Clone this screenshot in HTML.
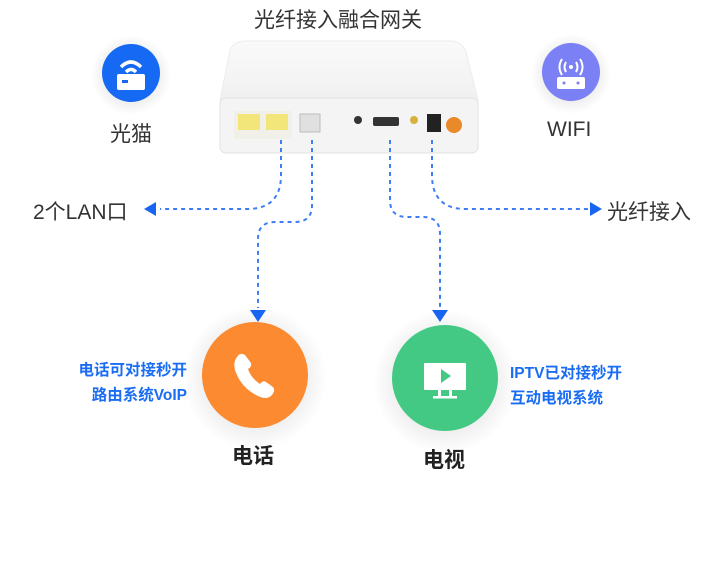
<!DOCTYPE html>
<html><head><meta charset="utf-8"><style>
html,body{margin:0;padding:0;background:#fff;}
body{width:720px;height:587px;position:relative;overflow:hidden;font-family:"Liberation Sans","Noto Sans CJK SC",sans-serif;}
.t{position:absolute;white-space:nowrap;}
</style></head><body>
<svg width="720" height="587" style="position:absolute;left:0;top:0">
<defs>
<radialGradient id="sh" cx="50%" cy="50%" r="50%"><stop offset="60%" stop-color="#000" stop-opacity="0.08"/><stop offset="100%" stop-color="#000" stop-opacity="0"/></radialGradient>
<linearGradient id="top" x1="0" y1="0" x2="0" y2="1"><stop offset="0" stop-color="#fafafa"/><stop offset="1" stop-color="#f0f0f0"/></linearGradient>
</defs>
<circle cx="131" cy="75" r="40" fill="url(#sh)"/>
<circle cx="571" cy="74" r="40" fill="url(#sh)"/>
<circle cx="255" cy="378" r="72" fill="url(#sh)"/>
<circle cx="445" cy="382" r="72" fill="url(#sh)"/>
<!-- router body -->
<path d="M230 50 Q234 41 246 41 L450 41 Q462 41 466 52 L478 100 L220 100 Z" fill="url(#top)" stroke="#ececec"/>
<rect x="220" y="98" width="258" height="55" rx="6" fill="#f4f4f4" stroke="#e2e2e2"/>
<rect x="234" y="111" width="58" height="28" fill="#f0f0e8"/>
<rect x="238" y="114" width="22" height="16" fill="#f2e67a"/>
<rect x="266" y="114" width="22" height="16" fill="#f2e67a"/>
<rect x="300" y="114" width="20" height="18" fill="#e0e0e0" stroke="#bbb"/>
<circle cx="358" cy="120" r="4" fill="#333"/>
<rect x="373" y="117" width="26" height="9" rx="2" fill="#333"/>
<circle cx="414" cy="120" r="4" fill="#d8b040"/>
<rect x="427" y="114" width="14" height="18" fill="#222"/>
<circle cx="454" cy="125" r="8" fill="#e98a2a"/>
<g fill="none" stroke="#3d7ef5" stroke-width="2" stroke-dasharray="4 4">
<path d="M281 140 L281 175 Q281 209 247 209 L160 209"/>
<path d="M312 140 L312 205 Q312 222 295 222 L275 222 Q258 222 258 239 L258 308"/>
<path d="M390 140 L390 200 Q390 217 407 217 L423 217 Q440 217 440 234 L440 308"/>
<path d="M432 140 L432 175 Q432 209 466 209 L590 209"/>
</g>
<g fill="#1865f2">
<path d="M144 209 L156 202 L156 216 Z"/>
<path d="M602 209 L590 202 L590 216 Z"/>
<path d="M258 322 L250 310 L266 310 Z"/>
<path d="M440 322 L432 310 L448 310 Z"/>
</g>
<circle cx="131" cy="73" r="29" fill="#1569f2"/>
<rect x="117" y="74" width="28" height="16" rx="2" fill="#fff"/>
<rect x="122" y="80" width="6" height="3" fill="#1569f2"/>
<path d="M121 67 Q131 57 141 67" stroke="#fff" stroke-width="3.5" fill="none"/>
<path d="M126 72 Q131 67 136 72" stroke="#fff" stroke-width="3.5" fill="none"/>
<circle cx="571" cy="72" r="29" fill="#7c80f5"/>
<rect x="557" y="77" width="28" height="12" rx="2" fill="#fff"/>
<circle cx="564" cy="83" r="1.5" fill="#7c80f5"/><circle cx="578" cy="83" r="1.5" fill="#7c80f5"/>
<circle cx="571" cy="67" r="2" fill="#fff"/>
<path d="M566 62 Q563 67 566 72 M576 62 Q579 67 576 72 M562 59 Q557 67 562 75 M580 59 Q585 67 580 75" stroke="#fff" stroke-width="2" fill="none"/>
<circle cx="255" cy="375" r="53" fill="#fb8a31"/>
<path d="M237 357 Q240 352 245 355 L251 363 Q252 367 248 369 Q251 378 260 384 Q263 380 266 382 L273 387 Q276 391 271 396 Q266 400 258 396 Q241 388 235 370 Q233 362 237 357 Z" fill="#fff"/>
<circle cx="445" cy="378" r="53" fill="#44c985"/>
<rect x="424" y="363" width="42" height="27" rx="1" fill="#fff"/>
<path d="M441 369 L451 376 L441 383 Z" fill="#44c985"/>
<rect x="438" y="390" width="3" height="6" fill="#fff"/><rect x="449" y="390" width="3" height="6" fill="#fff"/>
<rect x="433" y="396" width="24" height="2.5" fill="#fff"/>
</svg>
<div class="t" style="left:254px;top:4px;font-size:21px;color:#333">光纤接入融合网关</div>
<div class="t" style="left:110px;top:118px;font-size:21px;color:#333">光猫</div>
<div class="t" style="left:547px;top:118px;font-size:21px;color:#333">WIFI</div>
<div class="t" style="left:33px;top:196px;font-size:21px;color:#333">2个LAN口</div>
<div class="t" style="left:607px;top:196px;font-size:21px;color:#333">光纤接入</div>
<div class="t" style="right:533px;top:358px;font-size:15.5px;font-weight:bold;color:#1a6df3;text-align:right;line-height:25px">电话可对接秒开<br>路由系统VoIP</div>
<div class="t" style="left:510px;top:361px;font-size:15.5px;font-weight:bold;color:#1a6df3;line-height:25px">IPTV已对接秒开<br>互动电视系统</div>
<div class="t" style="left:232px;top:440px;font-size:21px;font-weight:bold;color:#222">电话</div>
<div class="t" style="left:423px;top:444px;font-size:21px;font-weight:bold;color:#222">电视</div>
</body></html>
